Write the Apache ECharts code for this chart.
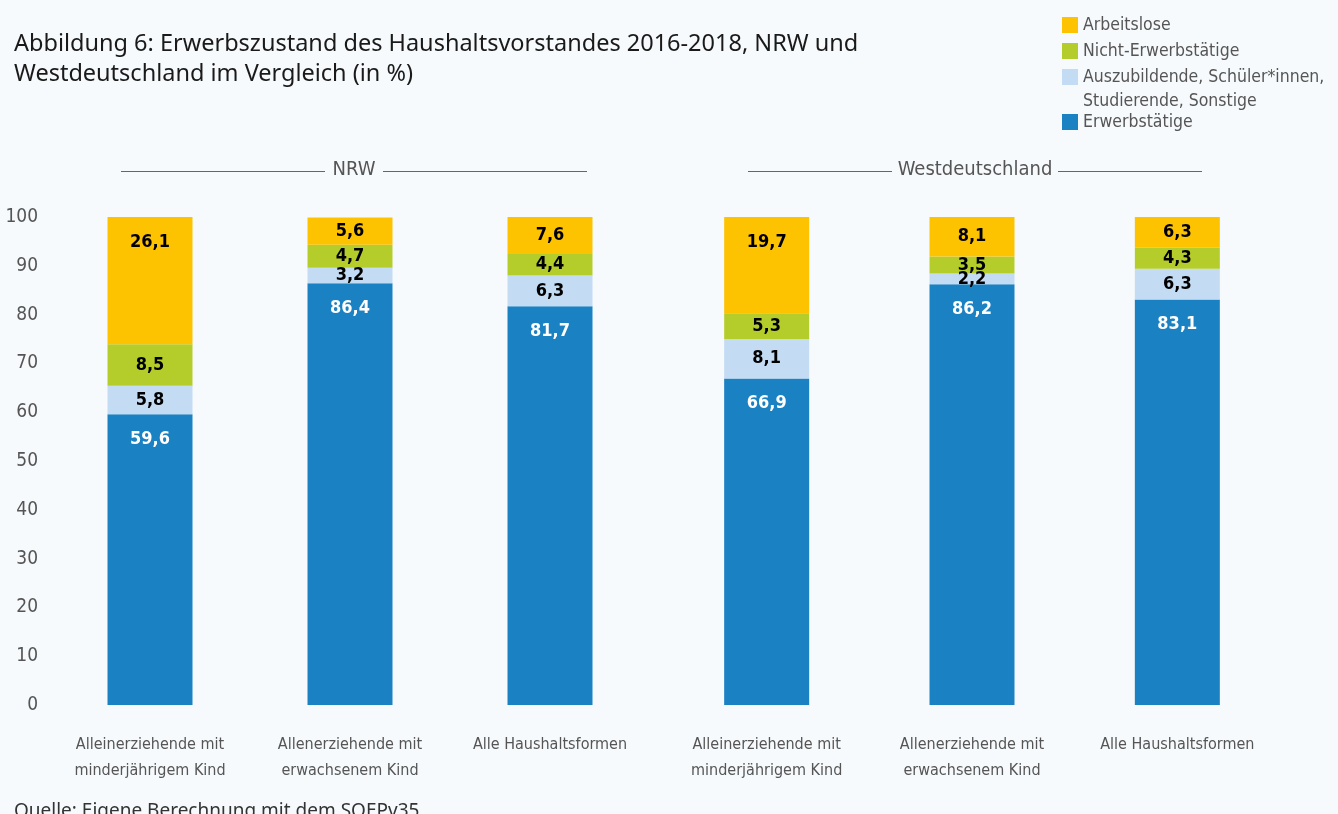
<!DOCTYPE html>
<html>
<head>
<meta charset="utf-8">
<script src="https://cdn.jsdelivr.net/npm/echarts@6.0.0/dist/echarts.min.js"></script>
<style>
  html, body { margin: 0; padding: 0; background: #f6fafc; }
  #chart { width: 1338px; height: 814px; }
</style>
</head>
<body>
<div id="chart"></div>
<script>
// Erwerbszustand des Haushaltsvorstandes, NRW vs. Westdeutschland (in %)
var categories = [
    'Alleinerziehende mit\nminderjährigem Kind',
    'Allenerziehende mit\nerwachsenem Kind',
    'Alle Haushaltsformen'
];
var seriesNames = [
    'Erwerbstätige',
    'Auszubildende, Schüler*innen,\nStudierende, Sonstige',
    'Nicht-Erwerbstätige',
    'Arbeitslose'
];
// NRW
var nrwErwerbstaetige = [59.6, 86.4, 81.7];
var nrwAuszubildende = [5.8, 3.2, 6.3];
var nrwNichtErwerbstaetige = [8.5, 4.7, 4.4];
var nrwArbeitslose = [26.1, 5.6, 7.6];
// Westdeutschland
var westErwerbstaetige = [66.9, 86.2, 83.1];
var westAuszubildende = [8.1, 2.2, 6.3];
var westNichtErwerbstaetige = [5.3, 3.5, 4.3];
var westArbeitslose = [19.7, 8.1, 6.3];

var groupNames = ['NRW', 'Westdeutschland'];
var yTicks = { min: 0, max: 100, interval: 10 };

var COLORS = ['#1a81c2', '#c3dcf3', '#b5cd2a', '#fdc300'];
var NARROW = '"Liberation Sans Narrow", "DejaVu Sans Condensed", sans-serif';
var REGULAR = '"Noto Sans", "Open Sans", sans-serif';

function fmt(v) { return String(v.toFixed(1)).replace('.', ','); }

function labelFor(idx) {
    var base = { show: true, fontFamily: NARROW, fontWeight: 'bold', fontSize: 18, lineHeight: 18,
        formatter: function (p) { return fmt(p.value); } };
    if (idx === 0) {
        base.position = 'insideTop';
        base.distance = 16;
        base.color = '#ffffff';
    } else {
        base.position = 'inside';
        base.color = '#000000';
    }
    return base;
}

function buildSeries(gridIdx, lists) {
    var out = [];
    for (var i = 0; i < lists.length; i++) {
        var data = [];
        for (var j = 0; j < lists[i].length; j++) {
            var v = lists[i][j];
            // big unemployment blocks carry their label at the top
            if (i === 3 && v > 15) {
                data.push({ value: v, label: { position: 'insideTop', distance: 16 } });
            } else {
                data.push(v);
            }
        }
        out.push({
            name: seriesNames[i],
            type: 'bar',
            stack: 'g' + gridIdx,
            xAxisIndex: gridIdx,
            yAxisIndex: gridIdx,
            barWidth: 85,
            itemStyle: { color: COLORS[i] },
            label: labelFor(i),
            emphasis: { disabled: true },
            data: data
        });
    }
    return out;
}

var series = buildSeries(0, [nrwErwerbstaetige, nrwAuszubildende, nrwNichtErwerbstaetige, nrwArbeitslose])
    .concat(buildSeries(1, [westErwerbstaetige, westAuszubildende, westNichtErwerbstaetige, westArbeitslose]));

function xAxis(gridIdx) {
    return {
        type: 'category',
        gridIndex: gridIdx,
        data: categories,
        axisLine: { show: false },
        axisTick: { show: false },
        axisLabel: { interval: 0, margin: 27, color: '#555555', fontFamily: NARROW,
            fontSize: 16, lineHeight: 26 }
    };
}
function yAxis(gridIdx, showLabels) {
    return {
        type: 'value',
        gridIndex: gridIdx,
        min: yTicks.min, max: yTicks.max, interval: yTicks.interval,
        axisLine: { show: false },
        axisTick: { show: false },
        splitLine: { show: false },
        axisLabel: { show: showLabels, color: '#555555', fontFamily: NARROW, fontSize: 19,
            margin: 12, align: 'right', padding: [0, 0, 8, 0] }
    };
}

function legendItem(name, top) {
    return {
        left: 1057, top: top, orient: 'vertical',
        itemWidth: 16, itemHeight: 16, icon: 'rect',
        selectedMode: false,
        data: [name],
        // a leading empty line keeps the icon beside the first line of a two-line entry
        formatter: function (n) { return n.indexOf('\n') >= 0 ? '\n' + n : n; },
        textStyle: { color: '#555555', fontFamily: NARROW, fontSize: 17.5, lineHeight: 24 }
    };
}

function header(x1, x2, x3, x4, cx, text) {
    var y = 171.5;
    var st = { stroke: '#666666', lineWidth: 1 };
    return [
        { type: 'line', shape: { x1: x1, y1: y, x2: x2, y2: y }, style: st, silent: true },
        { type: 'line', shape: { x1: x3, y1: y, x2: x4, y2: y }, style: st, silent: true },
        { type: 'text', x: cx, y: y - 2, silent: true,
          style: { text: text, fill: '#555555', font: '20px ' + NARROW, align: 'center', verticalAlign: 'middle' } }
    ];
}

var chart = echarts.init(document.getElementById('chart'), null, { renderer: 'canvas' });
chart.setOption({
    backgroundColor: '#f6fafc',
    animation: false,
    title: {
        text: 'Abbildung 6: Erwerbszustand des Haushaltsvorstandes 2016-2018, NRW und\nWestdeutschland im Vergleich (in %)',
        left: 9, top: 24,
        textStyle: { color: '#1a1a1a', fontFamily: REGULAR, fontWeight: 'normal', fontSize: 23.5, lineHeight: 30 }
    },
    legend: [
        legendItem(seriesNames[3], 8),
        legendItem(seriesNames[2], 34),
        legendItem(seriesNames[1], 36),
        legendItem(seriesNames[0], 105)
    ],
    grid: [
        { left: 50, width: 600, top: 217, height: 488 },
        { left: 664, width: 616, top: 217, height: 488 }
    ],
    xAxis: [xAxis(0), xAxis(1)],
    yAxis: [yAxis(0, true), yAxis(1, false)],
    series: series,
    graphic: header(121, 325, 383, 587, 354, groupNames[0])
        .concat(header(748, 892, 1058, 1202, 975, groupNames[1]))
        .concat([{ type: 'text', left: 14, top: 802, silent: true,
            style: { text: 'Quelle: Eigene Berechnung mit dem SOEPv35', fill: '#333333', font: '19px ' + REGULAR } }])
});
</script>
</body>
</html>
